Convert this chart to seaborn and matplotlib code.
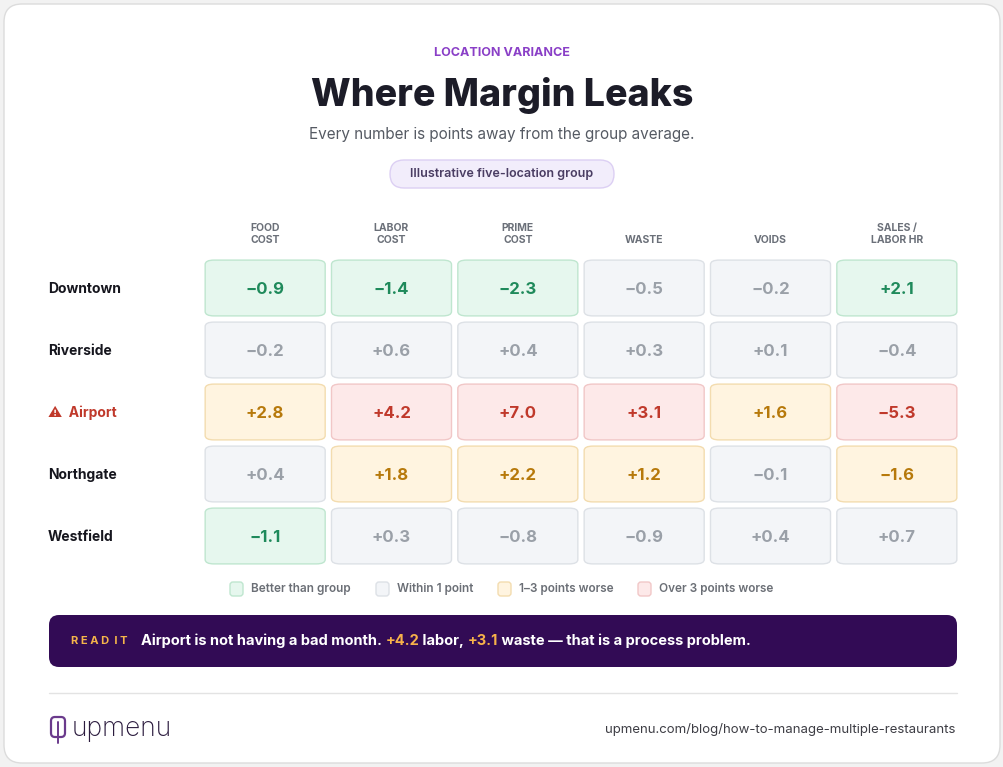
import matplotlib
matplotlib.use("Agg")
import matplotlib.pyplot as plt
from matplotlib.patches import FancyBboxPatch
import seaborn as sns

sns.set_theme(style="white")
plt.rcParams['font.family'] = ['Inter', 'DejaVu Sans']

columns = ["FOOD\nCOST", "LABOR\nCOST", "PRIME\nCOST", "WASTE", "VOIDS", "SALES /\nLABOR HR"]
locations = ["Downtown", "Riverside", "Airport", "Northgate", "Westfield"]
values = [
    [-0.9, -1.4, -2.3, -0.5, -0.2, 2.1],
    [-0.2, 0.6, 0.4, 0.3, 0.1, -0.4],
    [2.8, 4.2, 7.0, 3.1, 1.6, -5.3],
    [0.4, 1.8, 2.2, 1.2, -0.1, -1.6],
    [-1.1, 0.3, -0.8, -0.9, 0.4, 0.7],
]
categories = [
    ["G", "G", "G", "N", "N", "G"],
    ["N", "N", "N", "N", "N", "N"],
    ["O", "R", "R", "R", "O", "R"],
    ["N", "O", "O", "O", "N", "O"],
    ["G", "N", "N", "N", "N", "N"],
]
legend_labels = {"G": "Better than group", "N": "Within 1 point", "O": "1–3 points worse", "R": "Over 3 points worse"}

styles = {
    "G": ("#e6f7ee", "#bfe6cf", "#1f8a5b"),
    "N": ("#f3f5f8", "#dde1e6", "#9aa0a8"),
    "O": ("#fff4e0", "#f3dcaf", "#b7790b"),
    "R": ("#fde9e9", "#f1c7c7", "#c0392b"),
}

W, H = 1004, 767
fig = plt.figure(figsize=(W / 100, H / 100), dpi=100)
fig.patch.set_facecolor("#f2f2f2")
bg = fig.add_axes([0, 0, 1, 1])
bg.set_xlim(0, W); bg.set_ylim(H, 0); bg.axis("off")

bg.add_patch(FancyBboxPatch((4, 4), W - 8, H - 8, boxstyle="round,pad=0,rounding_size=18",
                            fc="white", ec="#dcdcdc", lw=1))

bg.text(502, 53, "LOCATION VARIANCE", ha="center", va="center", fontsize=9, fontweight="bold",
        color="#8a3fc7")
bg.text(502, 95, "Where Margin Leaks", ha="center", va="center", fontsize=27, fontweight="heavy",
        color="#1c1c28")
bg.text(502, 135, "Every number is points away from the group average.", ha="center", va="center",
        fontsize=11, color="#555a63")
bg.add_patch(FancyBboxPatch((390, 160), 224, 28, boxstyle="round,pad=0,rounding_size=14",
                            fc="#f2edfb", ec="#dccff3", lw=1))
bg.text(502, 174, "Illustrative five-location group", ha="center", va="center", fontsize=9,
        fontweight="semibold", color="#4a3d63")

# grid axes
x0, x1, y0, y1 = 202, 960, 257, 567
gx = fig.add_axes([x0 / W, 1 - y1 / H, (x1 - x0) / W, (y1 - y0) / H])
gx.set_xlim(-0.5, len(columns) - 0.5); gx.set_ylim(len(locations) - 0.5, -0.5); gx.axis("off")
cw, ch = 0.95, 0.9
for r, loc in enumerate(locations):
    for c, col in enumerate(columns):
        v = values[r][c]; cat = categories[r][c]
        fc, ec, tc = styles[cat]
        gx.add_patch(FancyBboxPatch((c - cw / 2, r - ch / 2), cw, ch,
                                    boxstyle="round,pad=0,rounding_size=0.07", mutation_aspect=1.0,
                                    fc=fc, ec=ec, lw=1))
        s = ("+" if v > 0 else "−") + f"{abs(v):.1f}"
        gx.text(c, r + 0.02, s, ha="center", va="center", fontsize=12, fontweight="bold", color=tc)
for c, col in enumerate(columns):
    gx.text(c, -0.7, col, ha="center", va="bottom", fontsize=7.5, fontweight="bold",
            color="#6b7079", linespacing=1.25, clip_on=False)
for r, loc in enumerate(locations):
    if loc == "Airport":
        gx.text(-1.72, r + 0.02, "⚠  " + loc, ha="left", va="center", fontsize=10, fontweight="bold",
                color="#c0392b", clip_on=False)
    else:
        gx.text(-1.72, r + 0.02, loc, ha="left", va="center", fontsize=10, fontweight="bold",
                color="#16161e", clip_on=False)

# legend
lx = [230, 376, 498, 638]
for x, (k, lab) in zip(lx, legend_labels.items()):
    fc, ec, tc = styles[k]
    bg.add_patch(FancyBboxPatch((x, 582), 13, 14, boxstyle="round,pad=0,rounding_size=3", fc=fc, ec=ec, lw=1))
    bg.text(x + 21, 589, lab, ha="left", va="center", fontsize=8.5, fontweight="semibold", color="#6b6f76")

# banner
bg.add_patch(FancyBboxPatch((49, 615), 908, 52, boxstyle="round,pad=0,rounding_size=10",
                            fc="#320b55", ec="none"))
fig.canvas.draw()
rend = fig.canvas.get_renderer()
bg.text(71, 641, "R E A D  I T", ha="left", va="center", fontsize=8, fontweight="bold", color="#f5b54a")
pieces = [("Airport is not having a bad month. ", "white"), ("+4.2", "#f7b24a"), (" labor, ", "white"),
          ("+3.1", "#f7b24a"), (" waste — that is a process problem.", "white")]
xp = 141
for txt, col in pieces:
    t = bg.text(xp, 641, txt, ha="left", va="center", fontsize=10.5, fontweight="bold", color=col)
    bb = t.get_window_extent(renderer=rend)
    xp += bb.width

bg.plot([49, 957], [693, 693], color="#e3e3e3", lw=1)
# logo
bg.add_patch(FancyBboxPatch((51, 717), 14, 20, boxstyle="round,pad=0,rounding_size=4", fc="none",
                            ec="#6a3a8c", lw=1.6))
bg.plot([58, 58], [722, 743], color="#6a3a8c", lw=1.4)
bg.text(72, 729, "upmenu", ha="left", va="center", fontsize=19, color="#2b1b3e", fontweight="light")
bg.text(955, 729, "upmenu.com/blog/how-to-manage-multiple-restaurants", ha="right", va="center",
        fontsize=9.5, color="#3d3d44")

fig.savefig("out.png", dpi=100, facecolor=fig.get_facecolor())
